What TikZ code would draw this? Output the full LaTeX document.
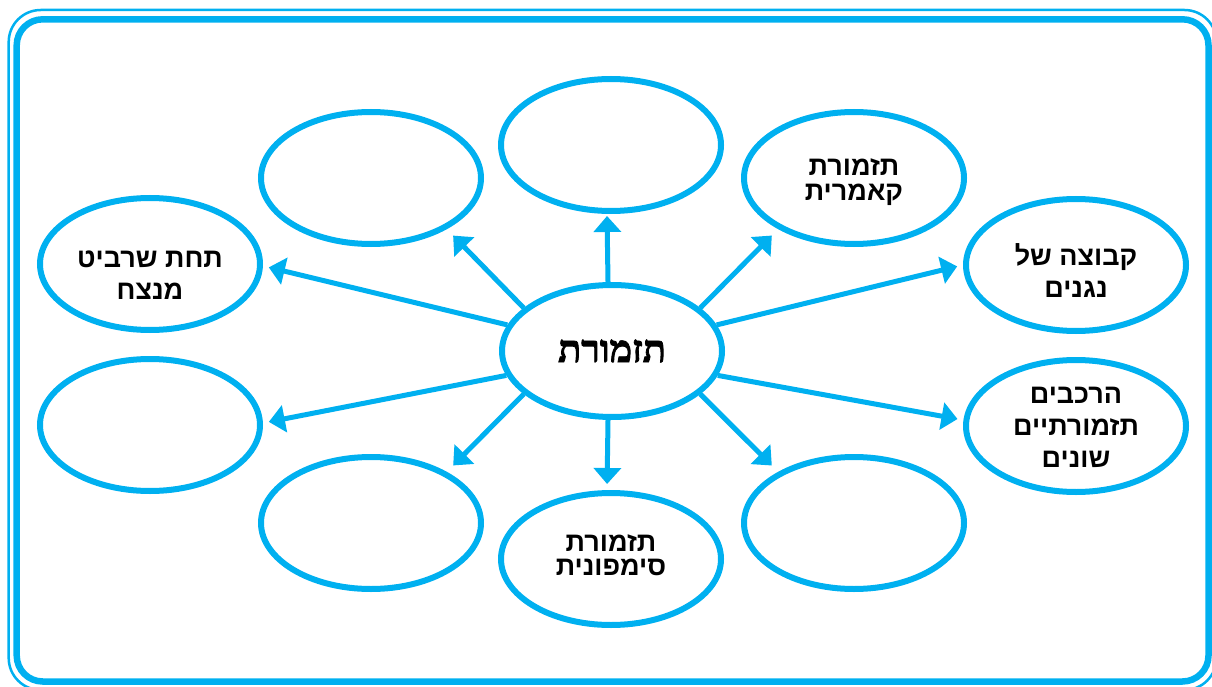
\documentclass[tikz,border=0pt]{standalone}
\usepackage{fontspec}
\usetikzlibrary{shapes.geometric,arrows.meta}
\TeXXeTstate=1
\newfontfamily\hebsans[Script=Hebrew]{Liberation Sans}
\newfontfamily\hebserif[Script=Hebrew,FakeBold=2.2]{Liberation Serif Bold}
\definecolor{sky}{RGB}{0,176,240}
\begin{document}
\begin{tikzpicture}[x=1pt,y=-1pt,
  blob/.style={ellipse, draw=sky, line width=6pt, minimum width=220pt, minimum height=132pt, inner sep=0pt, align=center},
  lbl/.style={align=center, font=\hebsans\bfseries\fontsize{27}{32}\selectfont},
  tight/.style={align=center, font=\hebsans\bfseries\fontsize{27}{24.5}\selectfont},
  hub/.style={font=\hebserif\fontsize{38}{42}\selectfont},
  link/.style={draw=sky, line width=5pt, -{Triangle[length=16pt,width=27pt]}}
]
\useasboundingbox (0,0) rectangle (1212,687);
\draw[sky, line width=2.5pt, rounded corners=32pt] (8.7,10) rectangle (1216.5,690);
\draw[sky, line width=6.5pt, rounded corners=26pt] (16.7,19.3) rectangle (1208.5,681.5);

\node[blob, hub] (c) at (612,351) {\beginR תזמורת\endR};
\node[blob] (top) at (611,145) {};
\node[blob] (tl) at (371,178) {};
\node[blob, label={[tight, yshift=-4pt]center:{\beginR תזמורת\endR\\\beginR קאמרית\endR}}] (tr) at (854,178) {};
\node[blob, label={[lbl, yshift=-11pt]center:{\beginR תחת שרביט\endR\\\beginR מנצח\endR}}] (lu) at (150,264) {};
\node[blob, label={[lbl, yshift=-6pt]center:{\beginR קבוצה של\endR\\\beginR נגנים\endR}}] (ru) at (1076,265) {};
\node[blob] (ll) at (150,425) {};
\node[blob, label={[lbl, yshift=-1pt]center:{\beginR הרכבים\endR\\\beginR תזמורתיים\endR\\\beginR שונים\endR}}] (rl) at (1076,426) {};
\node[blob] (bl) at (371,523) {};
\node[blob, label={[tight, yshift=4pt]center:{\beginR תזמורת\endR\\\beginR סימפונית\endR}}] (b) at (611,559) {};
\node[blob] (br) at (854,523) {};

\draw[link, shorten >=2pt] ([xshift=-4pt]c.north) -- ([xshift=-4pt]top.south);
\draw[link, shorten >=9pt] (c.154) -- (tl.-34);
\draw[link, shorten >=9pt] (c.26) -- (tr.214);
\draw[link, shorten >=9pt] (c.206) -- (bl.34);
\draw[link, shorten >=9pt] (c.-26) -- (br.146);
\draw[link, shorten >=6pt] ([xshift=-4pt]c.south) -- ([xshift=-4pt]b.north);
\draw[link, shorten >=6pt] (c.166) -- (lu.-1);
\draw[link, shorten >=6pt] (c.14) -- (ru.180);
\draw[link, shorten >=6pt] (c.193) -- (ll.1);
\draw[link, shorten >=6pt] (c.-13) -- (rl.177);
\end{tikzpicture}
\end{document}
